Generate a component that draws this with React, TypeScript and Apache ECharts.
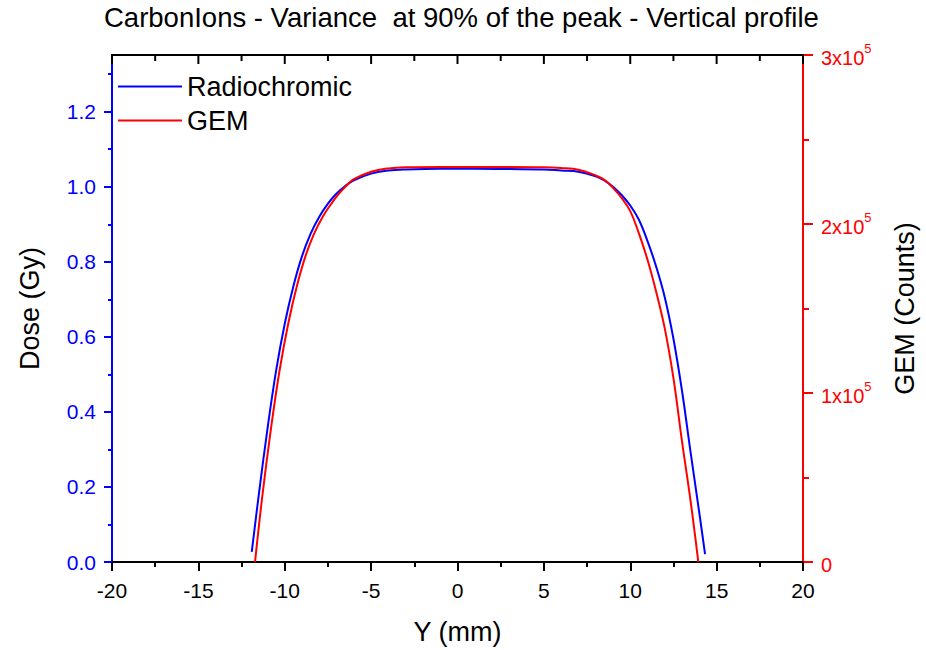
import React, { useEffect, useRef } from "react";
import * as echarts from "echarts";

const titleText = "CarbonIons - Variance  at 90% of the peak - Vertical profile";
const seriesNames = ["Radiochromic", "GEM"];

// Radiochromic (Dose, Gy) vs Y (mm)
const blueX = [-11.91, -11.5, -11.0, -10.5, -10.0, -9.5, -9.0, -8.5, -8.0, -7.5, -7.0, -6.5, -6.0, -5.0, -4.0, -3.0, -1.0, 1.0, 3.0, 5.0, 6.0, 7.0, 8.0, 8.5, 9.0, 9.5, 10.0, 10.5, 11.0, 11.5, 12.0, 12.5, 13.0, 13.5, 14.0, 14.33];
const blueY = [0.027, 0.18, 0.355, 0.51, 0.635, 0.735, 0.815, 0.875, 0.92, 0.955, 0.982, 1.002, 1.017, 1.035, 1.043, 1.046, 1.048, 1.048, 1.047, 1.046, 1.043, 1.04, 1.028, 1.017, 1.0, 0.978, 0.95, 0.912, 0.855, 0.787, 0.705, 0.595, 0.455, 0.29, 0.13, 0.021];

// GEM (Counts) vs Y (mm)
const redX = [-11.72, -11.3, -10.8, -10.3, -9.8, -9.3, -8.8, -8.3, -7.8, -7.3, -6.85, -6.45, -6.0, -5.0, -4.0, -3.0, -1.0, 1.0, 3.0, 5.0, 6.0, 7.0, 8.0, 8.5, 9.0, 9.5, 10.0, 10.5, 11.0, 11.5, 12.0, 12.5, 13.0, 13.5, 13.94];
const redY = [0, 38900, 78800, 113300, 141000, 163200, 181000, 194300, 204300, 212100, 218100, 222500, 226500, 230900, 232900, 233600, 233800, 233800, 233800, 233600, 233100, 232100, 228700, 226100, 221400, 215400, 207600, 194500, 178800, 159900, 138100, 108800, 71100, 35500, 0];

const xTicks = [-20, -15, -10, -5, 0, 5, 10, 15, 20];
const xMinorTicks = [-17.5, -12.5, -7.5, -2.5, 2.5, 7.5, 12.5, 17.5];
const doseTicks = [0, 0.2, 0.4, 0.6, 0.8, 1.0, 1.2];
const doseMinorTicks = [0.1, 0.3, 0.5, 0.7, 0.9, 1.1, 1.3];

const DOSE_MAX = 1.351;
const X_MIN = -20;
const X_MAX = 20;
const FONT = "'Liberation Sans', Arial, sans-serif";

const GRID_LEFT = 112;
const GRID_RIGHT = 123;
const GRID_TOP = 55;
const GRID_BOTTOM = 87;
const CHART_W = 926;

export default function App() {
  const ref = useRef<HTMLDivElement>(null);
  useEffect(() => {
    if (!ref.current) return;
    const chart = echarts.init(ref.current, null, { renderer: "svg" });
    const blueData = blueX.map((x, i) => [x, blueY[i]]);
    const redData = redX.map((x, i) => [x, redY[i]]);

    // top frame of the plot box (decoration), drawn as filled rects
    const gridW = CHART_W - GRID_LEFT - GRID_RIGHT;
    const xPix = (v: number) => GRID_LEFT + ((v - X_MIN) / (X_MAX - X_MIN)) * gridW;
    const fillStyle = { fill: "#000000" };
    const frame: any[] = [
      { type: "rect", z: 1000, silent: true, shape: { x: GRID_LEFT - 1, y: GRID_TOP - 1, width: gridW + 2, height: 2 }, style: fillStyle },
      ...xTicks.map((v) => ({ type: "rect", z: 1000, silent: true, shape: { x: xPix(v) - 1, y: GRID_TOP, width: 2, height: 9 }, style: fillStyle })),
      ...xMinorTicks.map((v) => ({ type: "rect", z: 1000, silent: true, shape: { x: xPix(v) - 1, y: GRID_TOP, width: 2, height: 6 }, style: fillStyle })),
    ];

    chart.setOption({
      animation: false,
      backgroundColor: "#ffffff",
      textStyle: { fontFamily: FONT },
      title: {
        text: titleText,
        left: 104,
        top: 3,
        padding: 0,
        textStyle: { fontFamily: FONT, fontSize: 27.5, fontWeight: "normal", color: "#000", lineHeight: 28 },
      },
      grid: {
        left: GRID_LEFT,
        right: GRID_RIGHT,
        top: GRID_TOP,
        bottom: GRID_BOTTOM,
        containLabel: false,
        show: true,
        borderColor: "#000000",
        borderWidth: 2,
        backgroundColor: "rgba(0,0,0,0)",
      },
      legend: {
        orient: "vertical",
        left: 118,
        top: 73,
        padding: 0,
        itemGap: 7,
        icon: "rect",
        itemWidth: 64,
        itemHeight: 2,
        data: seriesNames,
        textStyle: { fontFamily: FONT, fontSize: 27, color: "#000", lineHeight: 27 },
      },
      graphic: { elements: frame },
      xAxis: [
        {
          type: "value",
          position: "bottom",
          min: X_MIN,
          max: X_MAX,
          interval: 5,
          splitLine: { show: false },
          axisLine: { show: true, onZero: false, lineStyle: { color: "#000", width: 2 } },
          axisTick: { show: true, length: 9, lineStyle: { color: "#000", width: 2 } },
          minorTick: { show: true, splitNumber: 2, length: 5, lineStyle: { color: "#000", width: 2 } },
          axisLabel: { color: "#000", fontSize: 21, margin: 18, fontFamily: FONT },
          name: "Y (mm)",
          nameLocation: "middle",
          nameGap: 56,
          nameTextStyle: { color: "#000", fontSize: 27, fontFamily: FONT },
        },
      ],
      yAxis: [
        {
          type: "value",
          position: "left",
          min: 0,
          max: DOSE_MAX,
          splitLine: { show: false },
          axisLine: { show: true, onZero: false, lineStyle: { color: "#0000ff", width: 2 } },
          axisTick: { show: true, length: 8, customValues: doseTicks, lineStyle: { color: "#0000ff", width: 2 } },
          axisLabel: {
            color: "#0000ff",
            fontSize: 21,
            margin: 16,
            fontFamily: FONT,
            customValues: doseTicks,
            formatter: (v: number) => v.toFixed(1),
          },
          name: "Dose (Gy)",
          nameLocation: "middle",
          nameGap: 69,
          nameTextStyle: { color: "#000", fontSize: 27, fontFamily: FONT },
        },
        {
          type: "value",
          position: "right",
          min: 0,
          max: 300000,
          interval: 100000,
          splitLine: { show: false },
          axisLine: { show: true, onZero: false, lineStyle: { color: "#ff0000", width: 2 } },
          axisTick: { show: true, length: 10, lineStyle: { color: "#ff0000", width: 2 } },
          minorTick: { show: true, splitNumber: 2, length: 6, lineStyle: { color: "#ff0000", width: 2 } },
          axisLabel: {
            color: "#ff0000",
            margin: 18,
            fontFamily: FONT,
            formatter: (v: number) => (v === 0 ? "{b|0}" : `{b|${Math.round(v / 100000)}x10}{s|5}`),
            rich: {
              b: { fontSize: 20, color: "#ff0000", fontFamily: FONT, lineHeight: 26, verticalAlign: "bottom" },
              s: { fontSize: 13, color: "#ff0000", fontFamily: FONT, lineHeight: 26, verticalAlign: "top" },
            },
          },
          name: "GEM (Counts)",
          nameLocation: "middle",
          nameGap: 88,
          nameRotate: 90,
          nameTextStyle: { color: "#000", fontSize: 27, fontFamily: FONT },
        },
        {
          type: "value",
          position: "left",
          min: 0,
          max: DOSE_MAX,
          splitLine: { show: false },
          axisLine: { show: false, onZero: false },
          axisTick: { show: true, length: 4, customValues: doseMinorTicks, lineStyle: { color: "#0000ff", width: 2 } },
          axisLabel: { show: false },
        },
      ],
      series: [
        {
          name: seriesNames[0],
          type: "line",
          xAxisIndex: 0,
          yAxisIndex: 0,
          data: blueData,
          smooth: 0.4,
          showSymbol: false,
          symbol: "none",
          color: "#0000ff",
          lineStyle: { color: "#0000ff", width: 2 },
        },
        {
          name: seriesNames[1],
          type: "line",
          xAxisIndex: 0,
          yAxisIndex: 1,
          data: redData,
          smooth: 0.4,
          showSymbol: false,
          symbol: "none",
          color: "#ff0000",
          lineStyle: { color: "#ff0000", width: 2 },
        },
      ],
    });

    return () => chart.dispose();
  }, []);
  return (
    <div
      ref={ref}
      style={{ position: "absolute", left: 0, top: 0, width: 926, height: 650 }}
    />
  );
}
